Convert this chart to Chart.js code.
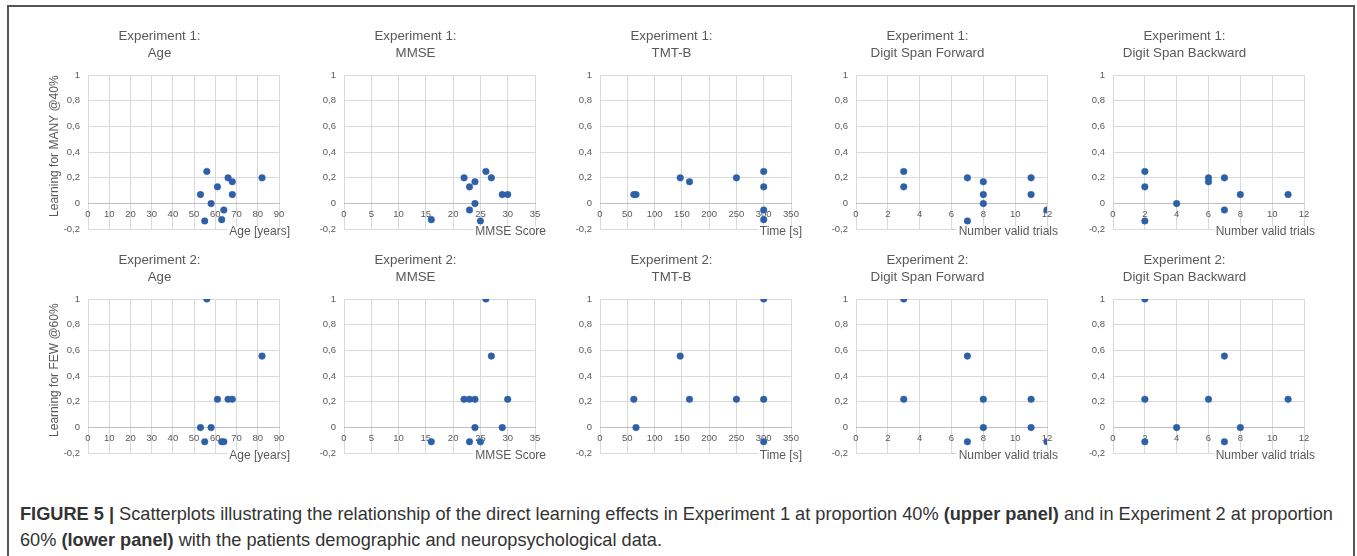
<!DOCTYPE html>
<html>
<head>
<meta charset="utf-8">
<script src="https://cdn.jsdelivr.net/npm/chart.js@4.4.0/dist/chart.umd.min.js"></script>
<style>
  html, body { margin: 0; padding: 0; background: #fff; }
  body { width: 1357px; height: 556px; overflow: hidden; position: relative; font-family: 'Liberation Sans', Arial, sans-serif; }
  #frame { position: absolute; left: 7px; top: 5px; width: 1348px; height: 620px; border: 2px solid #555; box-sizing: border-box; }
  .panel { position: absolute; }
  .caption { position: absolute; left: 20px; white-space: nowrap; font-size: 18.2px; line-height: 26px; color: #333; }
</style>
</head>
<body>
<div id="frame"></div>
<div id="panels"></div>
<div class="caption" style="top:501px"><b>FIGURE 5 |</b> Scatterplots illustrating the relationship of the direct learning effects in Experiment 1 at proportion 40% <b>(upper panel)</b> and in Experiment 2 at proportion</div>
<div class="caption" style="top:527px">60% <b>(lower panel)</b> with the patients demographic and neuropsychological data.</div>
<script>
// panel labels
const rowTitles = ['Experiment 1:', 'Experiment 2:'];
const panelNames = ['Age', 'MMSE', 'TMT-B', 'Digit Span Forward', 'Digit Span Backward'];
const xAxisTitles = ['Age [years]', 'MMSE Score', 'Time [s]', 'Number valid trials', 'Number valid trials'];
const yAxisTitles = ['Learning for MANY @40%', 'Learning for FEW @60%'];

// tick ranges
const xMax = [90, 35, 350, 12, 12];
const xStep = [10, 5, 50, 2, 2];
const yMin = -0.2, yMax = 1, yStep = 0.2;

// Experiment 1 (learning for MANY @40%)
const exp1AgeX = [56, 53, 55, 58, 61, 66, 68, 68, 64, 63, 82];
const exp1AgeY = [0.25, 0.07, -0.135, 0, 0.13, 0.2, 0.17, 0.07, -0.05, -0.125, 0.2];
const exp1MmseX = [16, 22, 23, 24, 23, 24, 25, 26, 27, 29, 30];
const exp1MmseY = [-0.125, 0.2, 0.13, 0.17, -0.05, 0, -0.135, 0.25, 0.2, 0.07, 0.07];
const exp1TmtX = [62, 66, 147, 164, 250, 300, 300, 300, 300];
const exp1TmtY = [0.07, 0.07, 0.2, 0.17, 0.2, 0.25, 0.13, -0.05, -0.125];
const exp1DsfX = [3, 3, 7, 7, 8, 8, 8, 11, 11, 12];
const exp1DsfY = [0.25, 0.13, 0.2, -0.135, 0.17, 0.07, 0, 0.2, 0.07, -0.05];
const exp1DsbX = [2, 2, 2, 4, 6, 6, 7, 7, 8, 11];
const exp1DsbY = [0.25, 0.13, -0.135, 0, 0.2, 0.17, 0.2, -0.05, 0.07, 0.07];

// Experiment 2 (learning for FEW @60%)
const exp2AgeX = [56, 82, 61, 66, 68, 53, 58, 55, 63, 64];
const exp2AgeY = [1, 0.556, 0.22, 0.22, 0.22, 0, 0, -0.11, -0.11, -0.11];
const exp2MmseX = [26, 27, 22, 23, 24, 30, 24, 29, 16, 23, 25];
const exp2MmseY = [1, 0.556, 0.22, 0.22, 0.22, 0.22, 0, 0, -0.11, -0.11, -0.11];
const exp2TmtX = [300, 147, 62, 164, 250, 300, 66, 300];
const exp2TmtY = [1, 0.556, 0.22, 0.22, 0.22, 0.22, 0, -0.11];
const exp2DsfX = [3, 3, 7, 7, 8, 8, 11, 11, 12];
const exp2DsfY = [1, 0.22, 0.556, -0.11, 0.22, 0, 0.22, 0, -0.11];
const exp2DsbX = [2, 2, 2, 4, 6, 7, 7, 8, 11];
const exp2DsbY = [1, 0.22, -0.11, 0, 0.22, 0.556, -0.11, 0, 0.22];

const series = [
  [[exp1AgeX, exp1AgeY], [exp1MmseX, exp1MmseY], [exp1TmtX, exp1TmtY], [exp1DsfX, exp1DsfY], [exp1DsbX, exp1DsbY]],
  [[exp2AgeX, exp2AgeY], [exp2MmseX, exp2MmseY], [exp2TmtX, exp2TmtY], [exp2DsfX, exp2DsfY], [exp2DsbX, exp2DsbY]]
];

const textGrey = '#595959';
const gridGrey = '#d9d9d9';
const dotBlue = '#2E5FA9';
const tickFont = { family: "'Liberation Sans Narrow', 'Liberation Sans', Arial, sans-serif", size: 9.5 };

// axis titles placed the way Excel does it (x title under the bottom-right corner)
const axisTitles = {
  id: 'axisTitles',
  beforeDatasetsDraw(chart, args, opts) {
    const { ctx, chartArea } = chart;
    ctx.save();
    ctx.font = "12px 'Liberation Sans', Arial, sans-serif";
    ctx.textBaseline = 'middle';
    ctx.textAlign = 'right';
    const xr = chartArea.right + 11;
    const yc = chartArea.bottom + 2;
    const w = ctx.measureText(opts.x).width;
    ctx.fillStyle = '#fff';
    ctx.fillRect(xr - w - 2, yc - 5, w + 4, 11);
    ctx.fillStyle = textGrey;
    ctx.fillText(opts.x, xr, yc);
    if (opts.y) {
      ctx.translate(chartArea.left - 33, (chartArea.top + chartArea.bottom) / 2 - 6);
      ctx.rotate(-Math.PI / 2);
      ctx.textAlign = 'center';
      ctx.fillText(opts.y, 0, 0);
    }
    ctx.restore();
  }
};

const plotLefts = [88, 344, 600, 856, 1113];
const rowTops = [20, 244];
const holder = document.getElementById('panels');

rowTitles.forEach((rowTitle, r) => {
  panelNames.forEach((name, c) => {
    const box = document.createElement('div');
    box.className = 'panel';
    box.style.left = (plotLefts[c] - 48) + 'px';
    box.style.top = rowTops[r] + 'px';
    const canvas = document.createElement('canvas');
    canvas.width = 256;
    canvas.height = 223;
    box.appendChild(canvas);
    holder.appendChild(box);

    const [xs, ys] = series[r][c];
    new Chart(canvas.getContext('2d'), {
      type: 'scatter',
      data: {
        datasets: [{
          data: xs.map((x, i) => ({ x: x, y: ys[i] })),
          backgroundColor: dotBlue,
          borderColor: dotBlue,
          borderWidth: 0.5,
          pointRadius: 3.3
        }]
      },
      plugins: [axisTitles],
      options: {
        responsive: false,
        animation: false,
        events: [],
        layout: { padding: { left: 0, right: 17, top: 0, bottom: 12 } },
        plugins: {
          legend: { display: false },
          tooltip: { enabled: false },
          title: {
            display: true,
            text: [rowTitle, name],
            color: textGrey,
            font: { family: "'Liberation Sans', Arial, sans-serif", size: 13.3, weight: 'normal', lineHeight: 1.25 },
            padding: { top: 8.4, bottom: 13.35 }
          },
          axisTitles: { x: xAxisTitles[c], y: c === 0 ? yAxisTitles[r] : null }
        },
        scales: {
          x: {
            type: 'linear',
            position: { y: 0 },
            min: 0,
            max: xMax[c],
            ticks: { stepSize: xStep[c], color: textGrey, font: tickFont, padding: 5, maxRotation: 0 },
            grid: { color: gridGrey, drawTicks: false },
            border: { color: '#bfbfbf' }
          },
          y: {
            position: 'left',
            min: yMin,
            max: yMax,
            ticks: {
              stepSize: yStep,
              color: textGrey,
              font: tickFont,
              padding: 8,
              callback: v => String(Math.round(v * 10) / 10).replace('.', ',')
            },
            grid: { color: gridGrey, drawTicks: false },
            border: { display: false },
            afterFit: s => { s.width = 48; }
          }
        }
      }
    });
  });
});
</script>
</body>
</html>
